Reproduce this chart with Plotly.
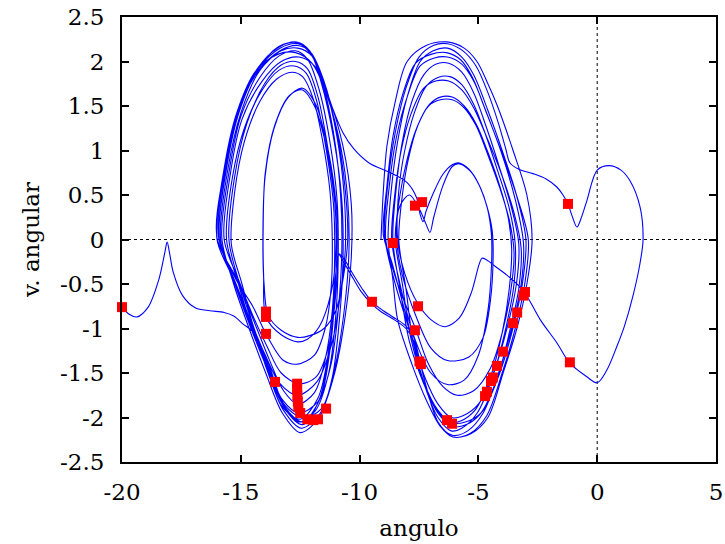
import plotly.graph_objects as go

# trayectoria del pendulo forzado (angulo, velocidad angular), leida a mano del grafico
der_a = [
    (-9.1, 0.0), (-9.0, 0.55), (-8.85, 1.05), (-8.5, 1.55), (-8.0, 2.0), (-7.2, 2.18), (-6.32, 2.22),
    (-5.6, 2.15), (-5.06, 2.0), (-4.6, 1.75), (-4.2, 1.5), (-3.54, 1.0), (-2.96, 0.5), (-2.74, 0.0),
    (-2.96, -0.5), (-3.38, -1.0), (-3.96, -1.5), (-4.6, -2.0), (-5.3, -2.18), (-6.07, -2.22), (-6.6, -2.1),
    (-7.2, -1.8), (-7.8, -1.4), (-8.4, -0.9), (-8.6, -0.45),
    (-8.8, 0.0), (-8.65, 0.6), (-8.4, 1.1), (-8.0, 1.6), (-7.45, 2.0), (-6.9, 2.12), (-6.3, 2.15),
    (-5.7, 2.05), (-5.2, 1.85), (-4.6, 1.45), (-4.0, 1.0), (-3.4, 0.5), (-3.0, 0.0), (-3.15, -0.5),
    (-3.55, -1.0), (-4.1, -1.5), (-4.8, -1.92), (-5.5, -2.08), (-6.1, -2.1), (-6.7, -1.95), (-7.3, -1.62),
    (-7.9, -1.15), (-8.3, -0.55),
    (-8.6, 0.0), (-8.45, 0.6), (-8.2, 1.1), (-7.8, 1.55), (-7.3, 1.85), (-6.8, 1.97), (-6.25, 1.98),
    (-5.7, 1.88), (-5.2, 1.65), (-4.65, 1.25), (-4.1, 0.8), (-3.6, 0.35), (-3.3, -0.05), (-3.4, -0.5),
    (-3.8, -1.0), (-4.3, -1.45), (-5.0, -1.85), (-5.65, -1.98), (-6.15, -2.0), (-6.7, -1.85), (-7.25, -1.55),
    (-7.8, -1.1), (-8.5, -0.5),
    (-8.95, 0.05), (-8.8, 0.65), (-8.5, 1.2), (-8.05, 1.7), (-7.5, 2.05), (-6.9, 2.18), (-6.3, 2.2),
    (-5.65, 2.12), (-5.1, 1.95), (-4.6, 1.65), (-4.15, 1.3), (-3.85, 1.02),
]

excursion = [
    (-3.67, 0.86), (-3.3, 0.79), (-2.7, 0.74), (-2.15, 0.68), (-1.7, 0.59), (-1.44, 0.5), (-1.23, 0.4),
    (-1.05, 0.26), (-0.85, 0.14), (-0.65, 0.26), (-0.43, 0.44), (0.0, 0.78), (0.5, 0.83), (1.0, 0.78),
    (1.38, 0.66), (1.8, 0.37), (1.93, 0.0), (1.8, -0.27), (1.5, -0.64), (1.15, -0.97), (0.83, -1.2),
    (0.4, -1.47), (0.0, -1.61), (-0.45, -1.54), (-1.15, -1.39), (-1.7, -1.16), (-2.4, -0.9), (-2.95, -0.64),
    (-3.3, -0.52), (-3.8, -0.4), (-4.3, -0.3), (-4.65, -0.23), (-4.85, -0.21), (-4.97, -0.28), (-5.3, -0.6),
    (-5.8, -0.88), (-6.4, -0.98), (-7.0, -0.9), (-7.55, -0.72), (-8.1, -0.38), (-8.4, 0.0),
]

der_b = [
    (-8.35, 0.55), (-8.1, 1.0), (-7.7, 1.42), (-7.2, 1.72), (-6.7, 1.82), (-6.2, 1.83), (-5.7, 1.74),
    (-5.2, 1.52), (-4.7, 1.18), (-4.2, 0.78), (-3.7, 0.35), (-3.45, -0.05), (-3.5, -0.5), (-3.85, -1.0),
    (-4.35, -1.5), (-5.05, -1.95), (-5.7, -2.12), (-6.15, -2.15), (-6.7, -2.0), (-7.25, -1.65), (-7.75, -1.15),
    (-8.05, -0.55),
    (-8.35, 0.0), (-8.2, 0.5), (-7.95, 0.9), (-7.55, 1.28), (-7.05, 1.52), (-6.6, 1.6), (-6.1, 1.6),
    (-5.6, 1.5), (-5.1, 1.3), (-4.6, 0.98), (-4.1, 0.6), (-3.75, 0.25), (-3.6, -0.1), (-3.7, -0.55),
    (-4.0, -1.05), (-4.5, -1.55), (-5.15, -1.92), (-5.75, -2.04), (-6.2, -2.06), (-6.75, -1.92), (-7.3, -1.6),
    (-7.8, -1.1), (-8.3, -0.6), (-8.65, -0.25),
    (-9.0, 0.05), (-8.85, 0.6), (-8.6, 1.15), (-8.2, 1.62), (-7.65, 1.98), (-7.0, 2.08), (-6.35, 2.1),
    (-5.75, 2.02), (-5.25, 1.82), (-4.7, 1.45), (-4.05, 1.0), (-3.4, 0.5), (-2.9, 0.0), (-3.05, -0.5),
    (-3.45, -1.0), (-4.0, -1.5), (-4.65, -1.98), (-5.35, -2.18), (-6.07, -2.22), (-6.7, -2.05),
]

puente_inf_1 = [
    (-7.3, -1.55), (-7.75, -1.08), (-8.1, -0.96), (-8.6, -0.87), (-9.0, -0.8), (-9.48, -0.7), (-9.9, -0.55),
    (-10.3, -0.38), (-10.65, -0.22), (-10.87, -0.16), (-10.98, -0.32), (-11.1, -0.75), (-11.3, -1.3),
    (-11.7, -1.8), (-12.4, -2.08), (-13.15, -1.9), (-13.85, -1.45), (-14.55, -0.98), (-15.25, -0.5),
]

izq_a = [
    (-15.95, 0.05), (-15.65, 0.8), (-15.1, 1.45), (-14.3, 1.92), (-13.4, 2.16), (-12.65, 2.22), (-12.1, 2.12),
    (-11.6, 1.75), (-11.1, 1.15), (-10.75, 0.45), (-10.7, -0.25), (-10.85, -0.9), (-11.15, -1.55), (-11.7, -2.0),
    (-12.5, -2.17), (-13.25, -1.95), (-13.95, -1.5), (-14.65, -1.0), (-15.3, -0.5),
    (-15.8, 0.02), (-15.5, 0.75), (-15.0, 1.38), (-14.2, 1.82), (-13.4, 2.06), (-12.7, 2.12), (-12.2, 2.03),
    (-11.7, 1.68), (-11.25, 1.1), (-10.95, 0.45), (-10.9, -0.2), (-11.0, -0.85), (-11.3, -1.5), (-11.85, -1.92),
    (-12.55, -2.05), (-13.25, -1.85), (-13.9, -1.45), (-14.55, -0.98), (-15.1, -0.5),
    (-15.6, 0.0), (-15.35, 0.7), (-14.85, 1.25), (-14.1, 1.68), (-13.4, 1.9), (-12.75, 1.95), (-12.25, 1.87),
    (-11.8, 1.55), (-11.4, 1.0), (-11.1, 0.4), (-11.05, -0.2), (-11.15, -0.8), (-11.45, -1.35), (-11.9, -1.72),
    (-12.6, -1.85), (-13.2, -1.7), (-13.8, -1.35), (-14.4, -0.95), (-15.1, -0.48),
    (-16.0, 0.02), (-15.7, 0.78), (-15.15, 1.42), (-14.3, 1.88), (-13.35, 2.12), (-12.6, 2.18), (-12.05, 2.1),
    (-11.5, 1.78), (-10.95, 1.2), (-10.6, 0.55), (-10.5, 0.0), (-10.7, -0.45), (-11.0, -0.8), (-11.5, -1.0),
    (-12.1, -1.08), (-12.6, -1.1), (-13.3, -1.02), (-13.85, -0.85), (-14.02, -0.5), (-14.07, 0.0),
    (-13.98, 0.7), (-13.6, 1.25), (-13.0, 1.6), (-12.4, 1.7), (-11.85, 1.52), (-11.4, 1.1), (-11.05, 0.55),
    (-10.9, 0.0), (-11.0, -0.6), (-11.3, -1.2), (-11.85, -1.55), (-12.55, -1.62), (-13.3, -1.5),
    (-13.9, -1.2), (-14.5, -0.85), (-15.1, -0.45),
    (-15.7, 0.0), (-15.45, 0.72), (-14.95, 1.35), (-14.1, 1.78), (-13.3, 2.0), (-12.55, 2.05), (-11.9, 1.95),
    (-11.3, 1.6), (-10.7, 1.05), (-10.35, 0.4), (-10.35, -0.2), (-10.6, -0.85), (-11.05, -1.5), (-11.65, -1.95),
    (-12.45, -2.12), (-13.2, -1.92), (-13.85, -1.5), (-14.45, -1.0), (-14.95, -0.5),
    (-15.4, -0.05), (-15.25, 0.55), (-14.85, 1.1), (-14.2, 1.55), (-13.5, 1.8), (-12.85, 1.88), (-12.4, 1.83),
    (-11.95, 1.58), (-11.55, 1.1), (-11.25, 0.55), (-11.15, 0.0), (-11.2, -0.55), (-11.45, -1.0), (-11.9, -1.3),
    (-12.6, -1.4), (-13.2, -1.36), (-13.94, -1.06), (-14.5, -0.75), (-15.2, -0.45),
    (-15.9, 0.0), (-15.62, 0.78), (-15.1, 1.42), (-14.3, 1.9), (-13.4, 2.17), (-12.6, 2.21),
]

puente_sup = [
    (-12.0, 2.06), (-11.5, 1.75), (-11.1, 1.45), (-10.7, 1.2), (-10.25, 1.02), (-9.6, 0.86), (-8.7, 0.75),
    (-8.0, 0.64), (-7.6, 0.47), (-7.45, 0.28), (-7.33, 0.2),
]

der_c = [
    (-7.2, 0.32), (-6.9, 0.52), (-6.5, 0.73), (-6.1, 0.84), (-5.8, 0.86), (-5.4, 0.79), (-5.0, 0.63),
    (-4.65, 0.38), (-4.42, 0.1), (-4.38, -0.2), (-4.5, -0.7), (-4.8, -1.1), (-5.4, -1.32), (-6.3, -1.36),
    (-7.0, -1.22), (-7.6, -0.88), (-8.2, -0.4), (-8.45, 0.05), (-8.3, 0.38), (-7.9, 0.5), (-7.5, 0.35),
    (-7.2, 0.17), (-7.04, 0.08), (-6.88, 0.25), (-6.5, 0.6), (-6.1, 0.82), (-5.8, 0.85), (-5.35, 0.77),
    (-4.95, 0.6), (-4.62, 0.35), (-4.45, 0.05), (-4.45, -0.3), (-4.6, -0.8), (-5.0, -1.3), (-5.6, -1.58),
    (-6.3, -1.63), (-7.0, -1.5), (-7.7, -1.1), (-8.3, -0.5),
    (-8.65, 0.0), (-8.5, 0.55), (-8.25, 1.0), (-7.85, 1.4), (-7.3, 1.7), (-6.8, 1.78), (-6.25, 1.78),
    (-5.7, 1.68), (-5.2, 1.48), (-4.65, 1.15), (-4.05, 0.75), (-3.5, 0.3), (-3.2, -0.1), (-3.3, -0.55),
    (-3.7, -1.05), (-4.2, -1.55), (-4.9, -1.95), (-5.55, -2.05), (-6.1, -2.06), (-6.7, -1.92), (-7.3, -1.6),
    (-7.85, -1.1), (-8.2, -0.5),
    (-8.5, 0.0), (-8.3, 0.5), (-8.0, 0.9), (-7.6, 1.25), (-7.1, 1.5), (-6.6, 1.57), (-6.1, 1.57),
    (-5.6, 1.48), (-5.1, 1.28), (-4.6, 0.95), (-4.1, 0.58), (-3.7, 0.22), (-3.5, -0.15), (-3.65, -0.6),
    (-4.0, -1.05), (-4.5, -1.45), (-5.2, -1.7), (-5.9, -1.75), (-6.5, -1.65), (-7.1, -1.4), (-7.65, -1.0),
    (-8.4, -0.5),
    (-8.9, 0.0), (-8.75, 0.6), (-8.45, 1.15), (-8.0, 1.6), (-7.45, 1.95), (-6.85, 2.04), (-6.3, 2.05),
    (-5.7, 1.97), (-5.2, 1.78), (-4.65, 1.42), (-4.0, 0.95), (-3.45, 0.45), (-3.1, -0.05), (-3.2, -0.5),
    (-3.6, -1.0), (-4.15, -1.5), (-4.8, -1.95), (-5.45, -2.15), (-6.1, -2.2), (-6.7, -2.05),
]

puente_inf_2 = [
    (-7.25, -1.6), (-7.7, -1.15), (-8.05, -1.0), (-8.55, -0.9), (-9.05, -0.82), (-9.5, -0.72), (-9.95, -0.58),
    (-10.35, -0.4), (-10.7, -0.24), (-10.87, -0.17), (-10.97, -0.3), (-11.05, -0.7), (-11.25, -1.25),
    (-11.65, -1.78), (-12.4, -2.05), (-13.15, -1.88), (-13.8, -1.42), (-14.5, -0.97), (-15.2, -0.5),
]

izq_b = [
    (-15.9, 0.0), (-15.6, 0.8), (-15.05, 1.45), (-14.25, 1.92), (-13.35, 2.15), (-12.6, 2.2), (-12.05, 2.1),
    (-11.55, 1.75), (-11.1, 1.2), (-10.8, 0.5), (-10.75, -0.15), (-10.9, -0.8), (-11.2, -1.4), (-11.75, -1.82),
    (-12.55, -1.95), (-13.25, -1.8), (-13.9, -1.4), (-14.5, -0.95), (-15.05, -0.5),
    (-15.5, 0.0), (-15.25, 0.72), (-14.75, 1.3), (-14.0, 1.75), (-13.3, 1.96), (-12.7, 2.0), (-12.2, 1.92),
    (-11.75, 1.6), (-11.35, 1.05), (-11.05, 0.45), (-11.0, -0.15), (-11.2, -0.6), (-11.7, -0.98),
    (-12.2, -1.12), (-12.6, -1.15), (-13.3, -1.07), (-13.94, -0.87), (-14.04, -0.4), (-14.06, 0.1),
    (-13.97, 0.75), (-13.55, 1.3), (-12.95, 1.62), (-12.4, 1.68), (-11.9, 1.5), (-11.45, 1.1), (-11.1, 0.55),
    (-10.95, 0.0), (-11.05, -0.6), (-11.3, -1.25), (-11.75, -1.78), (-12.5, -2.02), (-13.25, -1.88),
    (-13.9, -1.45), (-14.6, -0.98), (-15.25, -0.5),
    (-15.85, 0.0), (-15.55, 0.78), (-15.0, 1.42), (-14.2, 1.9), (-13.3, 2.12), (-12.6, 2.15), (-12.0, 2.06),
    (-11.45, 1.72), (-10.95, 1.15), (-10.65, 0.5), (-10.6, -0.1), (-10.8, -0.6), (-11.15, -1.15), (-11.8, -1.6),
    (-12.6, -1.75), (-13.35, -1.62), (-14.0, -1.28), (-14.65, -0.9), (-15.3, -0.45),
    (-16.0, 0.0), (-15.7, 0.8), (-15.15, 1.44), (-14.35, 1.9), (-13.45, 2.08), (-12.7, 2.1), (-12.0, 1.98),
    (-11.35, 1.6), (-10.8, 1.05), (-10.5, 0.45), (-10.45, -0.15), (-10.65, -0.8), (-11.05, -1.45), (-11.6, -1.9),
    (-12.4, -2.0), (-13.15, -1.86), (-13.85, -1.42), (-14.45, -1.05),
]

cola = [
    (-14.9, -0.95), (-15.3, -0.86), (-15.7, -0.82), (-16.3, -0.8), (-16.9, -0.77), (-17.45, -0.63),
    (-17.85, -0.36), (-18.0, -0.15), (-18.1, -0.03), (-18.2, -0.15), (-18.45, -0.45), (-18.9, -0.76),
    (-19.37, -0.87), (-19.7, -0.84), (-20.0, -0.76),
]

# puntos de la seccion de Poincare (cuadrados rojos)
poincare_ang = [-20.0, -13.94, -13.94, -13.94, -13.56, -12.63, -12.63, -12.62, -12.6, -12.58, -12.5,
                -12.2, -11.95, -11.75, -11.41, -9.48, -8.6, -7.67, -7.37, -7.54, -7.67, -7.48, -7.42,
                -6.32, -6.11, -4.72, -4.64, -4.47, -4.39, -4.22, -3.96, -3.54, -3.37, -3.04, -3.1,
                -1.23, -1.15]
poincare_vel = [-0.76, -0.81, -0.87, -1.06, -1.6, -1.62, -1.68, -1.75, -1.82, -1.88, -1.95,
                -2.02, -2.03, -2.02, -1.9, -0.7, -0.04, 0.38, 0.42, -0.75, -1.02, -1.37, -1.4,
                -2.03, -2.07, -1.76, -1.71, -1.59, -1.55, -1.42, -1.26, -0.94, -0.82, -0.59, -0.63,
                0.4, -1.38]

x_ticks = [-20, -15, -10, -5, 0, 5]
x_labels = ["-20", "-15", "-10", "-5", "0", "5"]
y_ticks = [-2.5, -2, -1.5, -1, -0.5, 0, 0.5, 1, 1.5, 2, 2.5]
y_labels = ["-2.5", "-2", "-1.5", "-1", "-0.5", "0", "0.5", "1", "1.5", "2", "2.5"]

orden = [der_a, excursion, der_b, puente_inf_1, izq_a, puente_sup, der_c, puente_inf_2, izq_b, cola]
ang = [p[0] for tramo in orden for p in tramo]
vel = [p[1] for tramo in orden for p in tramo]

fuente = dict(family="DejaVu Serif", size=23, color="black")

fig = go.Figure()
fig.add_trace(go.Scatter(x=ang, y=vel, mode="lines", line=dict(color="#0000ff", width=1.1, shape="spline", smoothing=0.9),
                         showlegend=False))
fig.add_trace(go.Scatter(x=poincare_ang, y=poincare_vel, mode="markers", cliponaxis=False,
                         marker=dict(symbol="square", size=10, color="#ff0000", line=dict(width=0)), showlegend=False))

fig.add_shape(type="line", xref="x", yref="y", x0=-20, x1=5, y0=0, y1=0, layer="below",
              line=dict(color="black", width=1, dash="dot"))
fig.add_shape(type="line", xref="x", yref="y", x0=0, x1=0, y0=-2.5, y1=2.5, layer="below",
              line=dict(color="black", width=1, dash="dot"))

eje = dict(showline=True, linecolor="black", linewidth=2, mirror="allticks", ticks="inside", ticklen=7,
           tickwidth=1.5, tickcolor="black", showgrid=False, zeroline=False, tickfont=fuente, automargin=False)
fig.update_xaxes(eje, range=[-20, 5], tickvals=x_ticks, ticktext=x_labels, ticklabelstandoff=8,
                 title=dict(text="angulo", font=fuente, standoff=16))
fig.update_yaxes(eje, range=[-2.5, 2.5], tickvals=y_ticks, ticktext=y_labels, ticklabelstandoff=11,
                 title=dict(text="v. angular", font=fuente, standoff=14))
fig.update_layout(width=725, height=544, margin=dict(l=122, r=9, t=17, b=82), plot_bgcolor="white",
                  paper_bgcolor="white", font=fuente)

fig.write_html("out.html", config={"displayModeBar": False},
               post_script="document.body.style.margin = '0';")
